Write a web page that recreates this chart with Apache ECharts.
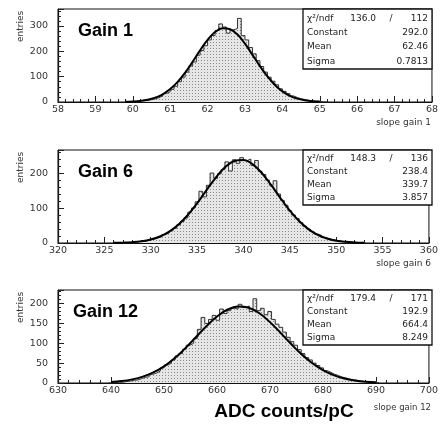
<!DOCTYPE html>
<html><head><meta charset="utf-8">
<script src="https://cdn.jsdelivr.net/npm/echarts@6/dist/echarts.min.js"></script>
<style>html,body{margin:0;padding:0;background:#fff}#c{width:441px;height:429px}</style>
</head><body><div id="c"></div>
<script>
// ---------- Data ----------
const titles = ['Gain 1', 'Gain 6', 'Gain 12'];
const xNames = ['slope gain 1', 'slope gain 6', 'slope gain 12'];
const xRanges = [[58, 68], [320, 360], [630, 700]];
const xIntervals = [1, 5, 10];
const yMaxes = [367, 266, 234];
const yIntervals = [100, 100, 50];

// histogram bins: first edge, bin width, counts
const hist1Start = 60.0, hist1Width = 0.1;
const hist1Counts = [2,3,5,6,9,12,17,24,33,40,50,62,80,98,118,142,158,185,203,222,245,262,282,308,296,272,285,290,330,262,245,215,190,163,140,118,98,82,68,52,42,33,24,18,13,10,7,4,3,2,1,0];
const hist2Start = 326.0, hist2Width = 0.4;
const hist2Counts = [0,1,1,2,1,3,4,5,6,9,11,15,18,24,29,35,42,52,62,72,88,100,118,148,132,165,200,185,198,210,232,206,238,228,244,236,240,222,236,205,196,180,165,178,140,122,108,92,80,70,58,48,40,33,26,22,16,13,10,8,6,4,3,3,2,1,1,0];
const hist3Start = 639.5, hist3Width = 0.7;
const hist3Counts = [0,1,2,2,4,5,7,8,11,14,16,22,25,30,38,45,50,58,68,74,85,95,100,112,135,165,150,160,170,158,186,175,182,188,186,198,190,194,180,212,182,188,172,180,160,148,140,128,115,104,95,84,74,64,58,50,44,38,31,27,22,19,15,13,10,8,7,5,4,3,2,1,1];

// Gaussian fit curves
const fit1X = [59.8,60.0,60.2,60.4,60.6,60.8,61.0,61.2,61.4,61.6,61.8,62.0,62.2,62.4,62.6,62.8,63.0,63.2,63.4,63.6,63.8,64.0,64.2,64.4,64.6,64.8,65.0];
const fit1Y = [0.9,2.1,4.4,9.0,17.2,30.5,51,79.5,116,159,204,245.5,276,291,287,266,230,186,141.6,100.7,67,41.8,24.4,13.4,6.9,3.3,1.5];
const fit2X = [326,327,328,329,330,331,332,333,334,335,336,337,338,339,340,341,342,343,344,345,346,347,348,349,350,351,352,353];
const fit2Y = [0.4,1.05,2.4,5.1,10.1,18.7,32.5,52.7,80,113.5,150.5,186.6,216.4,234.5,237.7,225,199.6,165.3,128,92.7,62.8,39.8,23.5,13,6.7,3.3,1.5,0.6];
const fit3X = [640,642,644,646,648,650,652,654,656,658,660,662,664,666,668,670,672,674,676,678,680,682,684,686,688,690];
const fit3Y = [2.4,4.8,9.1,16,26.7,42,62.3,87.1,115,142.8,167.4,185,192.7,189.3,175.4,153.2,126.2,98,71.8,49.6,32.3,19.8,11.5,6.3,3.2,1.6];

// stats boxes: chi2, ndf, Constant, Mean, Sigma
const stats1 = ['136.0', '112', '292.0', '62.46', '0.7813'];
const stats2 = ['148.3', '136', '238.4', '339.7', '3.857'];
const stats3 = ['179.4', '171', '192.9', '664.4', '8.249'];
const statLabels = ['\u03C7\u00B2/ndf', 'Constant', 'Mean', 'Sigma'];
const axisTitle = 'ADC counts/pC';
const yName = 'entries';

// ---------- Chart ----------
const hists = [[hist1Start, hist1Width, hist1Counts], [hist2Start, hist2Width, hist2Counts], [hist3Start, hist3Width, hist3Counts]];
const fits = [[fit1X, fit1Y], [fit2X, fit2Y], [fit3X, fit3Y]];
const stats = [stats1, stats2, stats3];

const pc = document.createElement('canvas');
pc.width = 3; pc.height = 3;
const pctx = pc.getContext('2d');
pctx.fillStyle = '#e6e6e6'; pctx.fillRect(0, 0, 3, 3);
pctx.fillStyle = '#8a8a8a'; pctx.fillRect(0, 0, 1, 1);

const tops = [9, 150, 290];
const H = 93, L = 58, W = 374;
const FONT = 'DejaVu Sans';

const grids = [], xAxes = [], yAxes = [], series = [], graphic = [];
for (let i = 0; i < 3; i++) {
  grids.push({left: L, top: tops[i], width: W, height: H, show: true, borderColor: '#111', borderWidth: 1, backgroundColor: 'transparent'});
  xAxes.push({type: 'value', gridIndex: i, min: xRanges[i][0], max: xRanges[i][1], interval: xIntervals[i],
    axisLine: {show: true, onZero: false, lineStyle: {color: '#111', width: 1.2}},
    axisTick: {show: true, inside: true, length: 6, lineStyle: {color: '#222'}},
    minorTick: {show: true, splitNumber: 5, length: 3, lineStyle: {color: '#222'}},
    splitLine: {show: false},
    axisLabel: {fontFamily: FONT, fontSize: 9.5, color: '#333', margin: 3, hideOverlap: false}});
  yAxes.push({type: 'value', gridIndex: i, min: 0, max: yMaxes[i], interval: yIntervals[i],
    axisLine: {show: true, lineStyle: {color: '#111', width: 1.2}},
    axisTick: {show: true, inside: true, length: 6, lineStyle: {color: '#222'}},
    minorTick: {show: true, splitNumber: 5, length: 3, lineStyle: {color: '#222'}},
    splitLine: {show: false},
    axisLabel: {fontFamily: FONT, fontSize: 9.5, color: '#333', margin: 10, showMaxLabel: false}});
  const [s, w, c] = hists[i];
  const hd = c.map((v, k) => [s + k * w, v]);
  hd.push([s + c.length * w, 0]);
  series.push({type: 'line', xAxisIndex: i, yAxisIndex: i, data: hd, step: 'end', symbol: 'none',
    lineStyle: {color: '#333', width: 1}, areaStyle: {color: {image: pc, repeat: 'repeat'}, opacity: 1},
    animation: false, z: 2});
  const [fx, fy] = fits[i];
  series.push({type: 'line', xAxisIndex: i, yAxisIndex: i, data: fx.map((x, k) => [x, fy[k]]), smooth: 0.4,
    symbol: 'none', lineStyle: {color: '#000', width: 2}, animation: false, z: 3});

  // title
  graphic.push({type: 'text', left: i === 2 ? 73 : 78, top: tops[i] + 13,
    style: {text: titles[i], font: 'bold 18px "Liberation Sans", Arial', fill: '#000'}});
  // y name
  graphic.push({type: 'text', x: 16, y: tops[i] + 33, rotation: Math.PI / 2,
    style: {text: yName, font: '9px "DejaVu Sans"', fill: '#333'}});
  // x name
  if (i < 2) {
    graphic.push({type: 'text', x: 431, y: tops[i] + 109, style: {text: xNames[i], font: '9px "DejaVu Sans"', fill: '#333', align: 'right'}});
  } else {
    graphic.push({type: 'text', x: 431, y: 403, style: {text: xNames[i], font: '8.5px "DejaVu Sans"', fill: '#333', align: 'right'}});
  }
  // stats box
  const bt = tops[i], bh = i === 0 ? 60 : 55;
  graphic.push({type: 'rect', shape: {x: 303, y: bt, width: 129, height: bh},
    style: {fill: '#fff', stroke: '#111', lineWidth: 1.3}, z: 10});
  const rowH = (bh - 3) / 4;
  const st = stats[i];
  for (let r = 0; r < 4; r++) {
    const yy = bt + 3 + rowH * r + rowH / 2 - 5;
    graphic.push({type: 'text', x: 307, y: yy, z: 11, style: {text: statLabels[r], font: '9px "DejaVu Sans"', fill: '#222'}});
    if (r === 0) {
      graphic.push({type: 'text', x: 376, y: yy, z: 11, style: {text: st[0], font: '9px "DejaVu Sans"', fill: '#222', align: 'right'}});
      graphic.push({type: 'text', x: 391, y: yy, z: 11, style: {text: '/', font: '9px "DejaVu Sans"', fill: '#222', align: 'center'}});
      graphic.push({type: 'text', x: 428, y: yy, z: 11, style: {text: st[1], font: '9px "DejaVu Sans"', fill: '#222', align: 'right'}});
    } else {
      graphic.push({type: 'text', x: 428, y: yy, z: 11, style: {text: st[r + 1], font: '9px "DejaVu Sans"', fill: '#222', align: 'right'}});
    }
  }
}
graphic.push({type: 'text', x: 284, y: 402, style: {text: axisTitle, font: 'bold 19px "Liberation Sans", Arial', fill: '#000', align: 'center'}});

const chart = echarts.init(document.getElementById('c'), null, {renderer: 'canvas'});
chart.setOption({animation: false, grid: grids, xAxis: xAxes, yAxis: yAxes, series: series, graphic: graphic});
</script></body></html>
